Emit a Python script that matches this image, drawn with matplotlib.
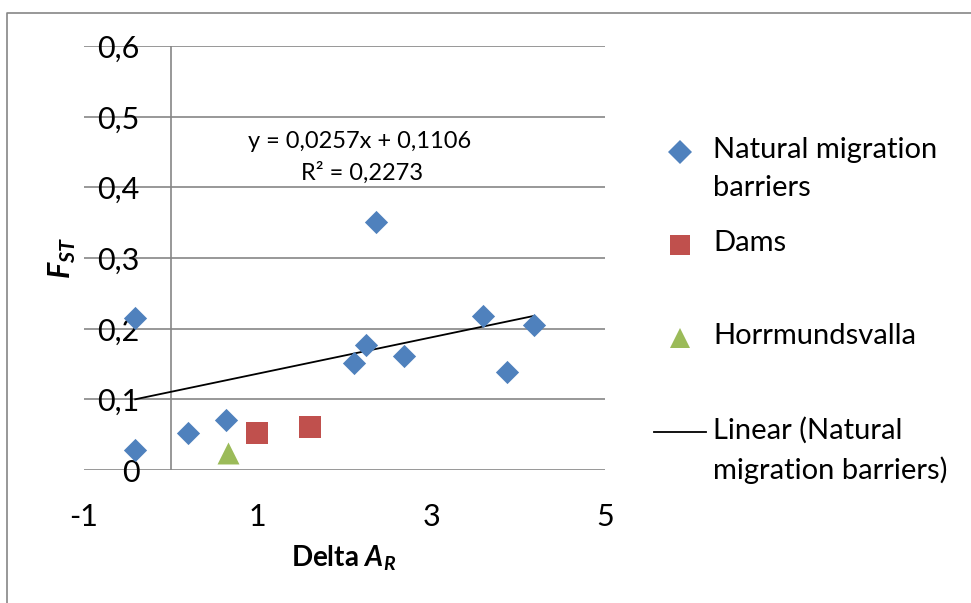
import matplotlib.pyplot as plt
from matplotlib.lines import Line2D
import numpy as np

plt.rcParams['font.family'] = ['Lato', 'DejaVu Sans']
plt.rcParams['mathtext.fontset'] = 'custom'
plt.rcParams['mathtext.rm'] = 'Lato'
plt.rcParams['mathtext.bfit'] = 'Lato:italic:bold'

# data
nat_x = [-0.41, -0.41, 0.20, 0.64, 2.11, 2.25, 2.36, 2.69, 3.59, 3.87, 4.18]
nat_y = [0.215, 0.028, 0.052, 0.071, 0.152, 0.177, 0.351, 0.161, 0.218, 0.139, 0.205]
dam_x = [0.99, 1.60]
dam_y = [0.052, 0.061]
hor_x = [0.66]
hor_y = [0.024]
slope, intercept, r2 = 0.0257, 0.1106, 0.2273

y_ticks = [0, 0.1, 0.2, 0.3, 0.4, 0.5, 0.6]
y_labels = ['0', '0,1', '0,2', '0,3', '0,4', '0,5', '0,6']
x_ticks = [-1, 1, 3, 5]
x_labels = ['-1', '1', '3', '5']

BLUE = '#4F81BD'
RED = '#C0504D'
GREEN = '#9BBB59'
GRID = '#868686'

W, H = 971, 603
fig = plt.figure(figsize=(W / 100, H / 100), dpi=100)


def fx(px):
    return px / W


def fy(py):
    return 1 - py / H


ax = fig.add_axes([fx(84), fy(470), fx(605) - fx(84), fy(46) - fy(470)])
ax.set_xlim(-1, 5)
ax.set_ylim(0, 0.6)
for s in ax.spines.values():
    s.set_visible(False)

for v in y_ticks:
    ax.axhline(v, color=GRID, lw=1.2, zorder=1)
ax.axvline(0, color=GRID, lw=1.2, zorder=1)

ax.set_yticks([])
for v, lab in zip(y_ticks, y_labels):
    ax.text(-0.36, v - 0.004, lab, ha='right', va='center', fontsize=22, zorder=3)

ax.set_xticks(x_ticks)
ax.set_xticklabels(x_labels, fontsize=22)
ax.tick_params(axis='x', length=0, pad=24)

# trend line over the natural barriers
tx = np.array([min(nat_x), max(nat_x)])
ax.plot(tx, slope * tx + intercept, color='black', lw=1.3, zorder=4)

ax.scatter(nat_x, nat_y, marker='D', s=140, color=BLUE, linewidths=0, zorder=5)
ax.scatter(dam_x, dam_y, marker='s', s=270, color=RED, linewidths=0, zorder=5)
ax.scatter(hor_x, hor_y, marker='^', s=250, color=GREEN, linewidths=0, zorder=5)

eq = f'y = {slope:.4f}x + {intercept:.4f}'.replace('.', ',')
rr = f'R² = {r2:.4f}'.replace('.', ',')
fig.text(fx(360), fy(142), eq, ha='center', va='center', fontsize=17)
fig.text(fx(362), fy(173), rr, ha='center', va='center', fontsize=17)

fig.text(fx(62), fy(258), r'$\mathbfit{F}_{\mathbfit{ST}}$', rotation=90, ha='center', va='center', fontsize=22)
fig.text(fx(344), fy(558), r'Delta $\mathbfit{A}_{\mathbfit{R}}$', ha='center', va='center', fontsize=20,
         fontweight='bold')

# legend drawn by hand (Excel puts the key on the first line of each entry)
leg = [
    (152, dict(marker='D', ms=12, color=BLUE, ls='none'), 'Natural migration\nbarriers'),
    (245, dict(marker='s', ms=14, color=RED, ls='none'), 'Dams'),
    (338, dict(marker='^', ms=15, color=GREEN, ls='none'), 'Horrmundsvalla'),
    (432, dict(color='black', lw=1.3), 'Linear (Natural\nmigration barriers)'),
]
for py, style, label in leg:
    if 'marker' in style:
        fig.add_artist(Line2D([fx(680)], [fy(py)], transform=fig.transFigure, mew=0, **style))
    else:
        fig.add_artist(Line2D([fx(654), fx(706)], [fy(py), fy(py)], transform=fig.transFigure, **style))
    fig.text(fx(713), fy(py - 15), label, ha='left', va='top', fontsize=21, linespacing=1.55)

# chart border (top and left visible)
fig.add_artist(Line2D([fx(7), fx(7), fx(W + 5)], [fy(H + 5), fy(13), fy(13)],
                      transform=fig.transFigure, color=GRID, lw=1.2))

fig.savefig('out.png', dpi=100)
